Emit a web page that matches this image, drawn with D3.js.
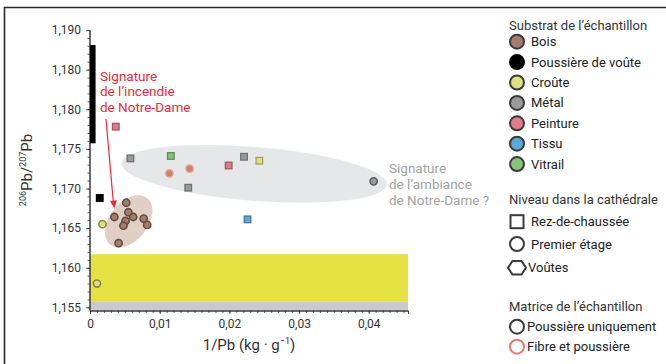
<!DOCTYPE html>
<html>
<head>
<meta charset="utf-8">
<script src="https://cdn.jsdelivr.net/npm/d3@7"></script>
<style>
  body { margin: 0; background: #fff; }
  svg { display: block; }
  text { font-family: Roboto, "Noto Sans", sans-serif; }
</style>
</head>
<body>
<svg id="chart" width="666" height="364"></svg>
<script>
// Axis ticks
const yTickValues = [1.155, 1.160, 1.165, 1.170, 1.175, 1.180, 1.185, 1.190];
const yTickLabels = ["1,155", "1,160", "1,165", "1,170", "1,175", "1,180", "1,180", "1,190"];
const xTickValues = [0, 0.01, 0.02, 0.03, 0.04];
const xTickLabels = ["0", "0,01", "0,02", "0,03", "0,04"];

// Legend categories
const substrats = ["Bois", "Poussière de voûte", "Croûte", "Métal", "Peinture", "Tissu", "Vitrail"];
const substratColors = ["#a47e6c", "#000000", "#dfe07e", "#9a9a9a", "#e27c88", "#5aa9d6", "#86c47a"];
const niveaux = ["Rez-de-chaussée", "Premier étage", "Voûtes"];
const matrices = ["Poussière uniquement", "Fibre et poussière"];

// Samples: 1/Pb (kg·g⁻¹), 206Pb/207Pb, substrate, level, matrix
const sampleX = [0.0037, 0.0058, 0.0116, 0.0114, 0.0143, 0.0199, 0.0221, 0.0141, 0.0243, 0.0407, 0.0226, 0.0014,
                 0.0052, 0.0035, 0.0055, 0.0062, 0.0051, 0.0048, 0.0077, 0.0082, 0.0041, 0.0018, 0.0010];
const sampleY = [1.1778, 1.1738, 1.1741, 1.1719, 1.1725, 1.1729, 1.1740, 1.1701, 1.1735, 1.1709, 1.1661, 1.1688,
                 1.1682, 1.1664, 1.1670, 1.1664, 1.1659, 1.1653, 1.1662, 1.1654, 1.1631, 1.1655, 1.1580];
const sampleSubstrat = ["Peinture", "Métal", "Vitrail", "Bois", "Bois", "Peinture", "Métal", "Métal", "Croûte", "Métal", "Tissu", "Poussière de voûte",
                        "Bois", "Bois", "Bois", "Bois", "Bois", "Bois", "Bois", "Bois", "Bois", "Croûte", "Croûte"];
const sampleNiveau = ["Rez-de-chaussée", "Rez-de-chaussée", "Rez-de-chaussée", "Premier étage", "Premier étage", "Rez-de-chaussée",
                      "Rez-de-chaussée", "Rez-de-chaussée", "Rez-de-chaussée", "Premier étage", "Rez-de-chaussée", "Rez-de-chaussée",
                      "Premier étage", "Premier étage", "Premier étage", "Premier étage", "Premier étage", "Premier étage",
                      "Premier étage", "Premier étage", "Premier étage", "Premier étage", "Premier étage"];
const sampleMatrice = ["Poussière uniquement", "Poussière uniquement", "Poussière uniquement", "Fibre et poussière", "Fibre et poussière",
                       "Poussière uniquement", "Poussière uniquement", "Poussière uniquement", "Poussière uniquement", "Poussière uniquement",
                       "Poussière uniquement", "Poussière uniquement", "Poussière uniquement", "Poussière uniquement", "Poussière uniquement",
                       "Poussière uniquement", "Poussière uniquement", "Poussière uniquement", "Poussière uniquement", "Poussière uniquement",
                       "Poussière uniquement", "Poussière uniquement", "Poussière uniquement"];

// Reference ranges (data units)
const yellowBand = [1.1557, 1.1617];
const grayBand = [1.1546, 1.1557];
const vaultBarX = [0, 0.0008];
const vaultBarY = [1.1757, 1.1881];

// Signature ellipses: major-axis end points and half minor axis (in 206/207 units)
const ellipseNames = ["ambiance", "incendie"];
const ellipseEnds = [[[0.0045, 1.1732], [0.0426, 1.1705]], [[0.0082, 1.1688], [0.0029, 1.1629]]];
const ellipseHalfMinor = [0.0034, 0.0024];

const svg = d3.select("#chart");
const plot = { left: 90, right: 408, top: 30, bottom: 310.5 };

const x = d3.scaleLinear().domain([0, 0.04563]).range([plot.left, plot.right]);
const y = d3.scaleLinear().domain([1.1546, 1.190]).range([plot.bottom, plot.top]);

// Frame
svg.append("path")
  .attr("d", "M4.5,370 V7.5 H680")
  .attr("fill", "none").attr("stroke", "#2a2a2a").attr("stroke-width", 1.6);

// Bands
svg.append("rect")
  .attr("x", x(0)).attr("y", y(yellowBand[1]))
  .attr("width", x.range()[1] - x(0)).attr("height", y(yellowBand[0]) - y(yellowBand[1]))
  .attr("fill", "#e6e142");
svg.append("rect")
  .attr("x", x(0)).attr("y", y(grayBand[1]))
  .attr("width", x.range()[1] - x(0)).attr("height", y(grayBand[0]) - y(grayBand[1]))
  .attr("fill", "#c9c9d0");

// Ellipses
const ellipseFill = { ambiance: "rgba(214,216,220,0.62)", incendie: "rgba(196,168,148,0.55)" };
ellipseNames.forEach((name, i) => {
  const [p0, p1] = ellipseEnds[i];
  const x0 = x(p0[0]), y0 = y(p0[1]), x1 = x(p1[0]), y1 = y(p1[1]);
  const cx = (x0 + x1) / 2, cy = (y0 + y1) / 2;
  const rx = Math.hypot(x1 - x0, y1 - y0) / 2;
  const ry = Math.abs(y(1.17) - y(1.17 + ellipseHalfMinor[i]));
  const ang = Math.atan2(y1 - y0, x1 - x0) * 180 / Math.PI;
  svg.append("ellipse")
    .attr("cx", cx).attr("cy", cy).attr("rx", rx).attr("ry", ry)
    .attr("transform", `rotate(${ang},${cx},${cy})`)
    .attr("fill", ellipseFill[name]);
});

// Axes
const axisColor = "#3a3a3a";
const yMinor = svg.append("g").attr("transform", `translate(${plot.left},0)`)
  .call(d3.axisLeft(y).tickValues(d3.range(1.155, 1.1905, 0.001)).tickSize(2.5).tickFormat(""));
const yAxis = svg.append("g").attr("transform", `translate(${plot.left},0)`)
  .call(d3.axisLeft(y).tickValues(yTickValues).tickSize(4).tickPadding(5)
        .tickFormat((d, i) => yTickLabels[i]));
const xMinor = svg.append("g").attr("transform", `translate(0,${plot.bottom})`)
  .call(d3.axisBottom(x).tickValues(d3.range(0, 0.0456, 0.001)).tickSize(2.5).tickFormat(""));
const xAxis = svg.append("g").attr("transform", `translate(0,${plot.bottom})`)
  .call(d3.axisBottom(x).tickValues(xTickValues).tickSize(3.5).tickPadding(5)
        .tickFormat((d, i) => xTickLabels[i]));
[yMinor, yAxis, xMinor, xAxis].forEach(g => {
  g.select(".domain").attr("stroke", axisColor).attr("stroke-width", 1);
  g.selectAll(".tick line").attr("stroke", axisColor).attr("stroke-width", 0.8);
  g.selectAll("text").attr("font-size", 12).attr("fill", "#333").attr("font-family", "Roboto, sans-serif");
});
yMinor.select(".domain").attr("d", `M0,${y(1.190)}V${plot.bottom}`);
yAxis.select(".domain").attr("d", `M0,${y(1.190)}V${plot.bottom}`);

// Vault dust bar
svg.append("rect")
  .attr("x", x(vaultBarX[0])).attr("y", y(vaultBarY[1]))
  .attr("width", x(vaultBarX[1]) - x(vaultBarX[0])).attr("height", y(vaultBarY[0]) - y(vaultBarY[1]))
  .attr("fill", "#000");

// Samples
const colorOf = d3.scaleOrdinal().domain(substrats).range(substratColors);
const samples = sampleX.map((v, i) => ({
  x: v, y: sampleY[i], s: sampleSubstrat[i], n: sampleNiveau[i], m: sampleMatrice[i]
}));
const strokeOf = d => {
  if (d.m === "Fibre et poussière") return "#e9a08e";
  if (d.s === "Poussière de voûte") return "#000";
  return d3.color(colorOf(d.s)).darker(d.n === "Premier étage" ? 1.4 : 0.9).formatHex();
};
const fillOf = d => d.m === "Fibre et poussière" ? "#c8826c" : colorOf(d.s);

svg.append("g").selectAll("rect").data(samples.filter(d => d.n === "Rez-de-chaussée")).join("rect")
  .attr("x", d => x(d.x) - 3.3).attr("y", d => y(d.y) - 3.3)
  .attr("width", 6.6).attr("height", 6.6)
  .attr("fill", fillOf).attr("stroke", strokeOf).attr("stroke-width", 1.3);
svg.append("g").selectAll("circle").data(samples.filter(d => d.n === "Premier étage")).join("circle")
  .attr("cx", d => x(d.x)).attr("cy", d => y(d.y)).attr("r", 3.6)
  .attr("fill", fillOf).attr("stroke", strokeOf).attr("stroke-width", 1.6);

// Fire signature annotation
const red = "#ec2b36";
const fireText = svg.append("text").attr("x", 100).attr("y", 80.5)
  .attr("fill", red).attr("font-size", 13.5);
["Signature", "de l’incendie", "de Notre-Dame"].forEach((t, i) =>
  fireText.append("tspan").attr("x", 100).attr("dy", i ? 15.6 : 0).text(t));
svg.append("line").attr("x1", 106).attr("y1", 119).attr("x2", 113.3).attr("y2", 202)
  .attr("stroke", red).attr("stroke-width", 1.2);
svg.append("path").attr("d", "M110,201 L117,200.2 L114.3,208.5 Z").attr("fill", red);

// Ambient signature annotation
const ambText = svg.append("text").attr("x", 389).attr("y", 172.5)
  .attr("fill", "#a3a3a3").attr("font-size", 13.5);
["Signature", "de l’ambiance", "de Notre-Dame ?"].forEach((t, i) =>
  ambText.append("tspan").attr("x", 389).attr("dy", i ? 16 : 0).text(t));

// Axis titles
const yTitle = svg.append("text")
  .attr("transform", "translate(32,170) rotate(-90)")
  .attr("text-anchor", "middle").attr("fill", "#333").attr("font-size", 15);
yTitle.append("tspan").attr("font-size", 9).attr("dy", -6).text("206");
yTitle.append("tspan").attr("dy", 6).text("Pb/");
yTitle.append("tspan").attr("font-size", 9).attr("dy", -6).text("207");
yTitle.append("tspan").attr("dy", 6).text("Pb");

const xTitle = svg.append("text").attr("x", 249).attr("y", 350)
  .attr("text-anchor", "middle").attr("fill", "#333").attr("font-size", 15);
xTitle.append("tspan").text("1/Pb (kg · g");
xTitle.append("tspan").attr("font-size", 9).attr("dy", -6).text("−1");
xTitle.append("tspan").attr("dy", 6).text(")");

// Legends
const lg = svg.append("g");
const lgX = 517, lgTextX = 531, legendStroke = "#3b3b3b";
const headFont = 13, itemFont = 13;

lg.append("text").attr("x", 509).attr("y", 29.5).attr("font-size", headFont).attr("fill", "#333")
  .text("Substrat de l’échantillon");
substrats.forEach((s, i) => {
  const cy = 41.7 + i * 20.4;
  lg.append("circle").attr("cx", lgX).attr("cy", cy).attr("r", 7)
    .attr("fill", substratColors[i]).attr("stroke", i === 1 ? "#000" : legendStroke).attr("stroke-width", 2);
  lg.append("text").attr("x", lgTextX).attr("y", cy + 4.5).attr("font-size", itemFont).attr("fill", "#222").text(s);
});

lg.append("text").attr("x", 509).attr("y", 204).attr("font-size", headFont).attr("fill", "#333")
  .text("Niveau dans la cathédrale");
const nivY = [221.7, 244, 267.7];
lg.append("rect").attr("x", lgX - 6.5).attr("y", nivY[0] - 6.5).attr("width", 13).attr("height", 13)
  .attr("fill", "none").attr("stroke", legendStroke).attr("stroke-width", 2);
lg.append("circle").attr("cx", lgX).attr("cy", nivY[1]).attr("r", 7)
  .attr("fill", "none").attr("stroke", legendStroke).attr("stroke-width", 2);
const hex = d3.range(6).map(k => [lgX + 9 * Math.cos(k * Math.PI / 3), nivY[2] + 7.8 * Math.sin(k * Math.PI / 3)]);
lg.append("path").attr("d", d3.line()(hex) + "Z")
  .attr("fill", "none").attr("stroke", legendStroke).attr("stroke-width", 2);
niveaux.forEach((n, i) =>
  lg.append("text").attr("x", i === 2 ? 528 : lgTextX).attr("y", nivY[i] + 4.5)
    .attr("font-size", itemFont).attr("fill", "#222").text(n));

lg.append("text").attr("x", 509).attr("y", 310.5).attr("font-size", headFont).attr("fill", "#333")
  .text("Matrice de l’échantillon");
const matY = [326.7, 346.7];
const matStroke = [legendStroke, "#e77a6c"];
matrices.forEach((m, i) => {
  lg.append("circle").attr("cx", lgX).attr("cy", matY[i]).attr("r", 7)
    .attr("fill", "none").attr("stroke", matStroke[i]).attr("stroke-width", 2);
  lg.append("text").attr("x", 527).attr("y", matY[i] + 4.5).attr("font-size", itemFont).attr("fill", "#222").text(m);
});
</script>
</body>
</html>
